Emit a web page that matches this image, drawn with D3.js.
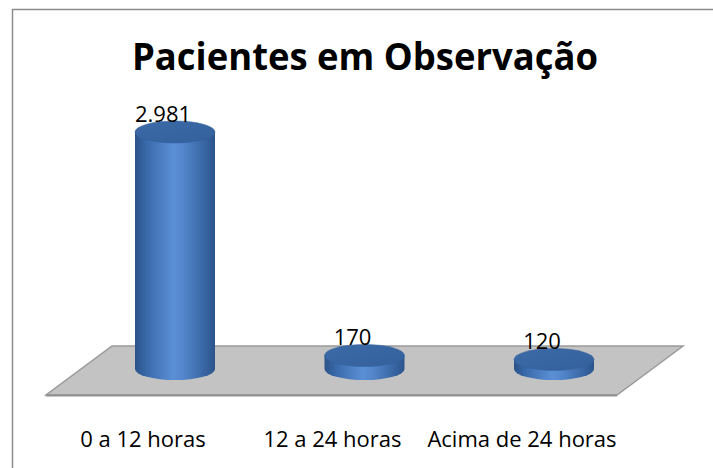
<!DOCTYPE html>
<html>
<head>
<meta charset="utf-8">
<script src="https://cdn.jsdelivr.net/npm/d3@7"></script>
<style>
  body { margin: 0; background: #fff; }
  svg { display: block; font-family: 'Open Sans', sans-serif; }
</style>
</head>
<body>
<svg id="chart" width="713" height="468"></svg>
<script>
const title = 'Pacientes em Observação';
const categories = ['0 a 12 horas', '12 a 24 horas', 'Acima de 24 horas'];
const values = [2981, 170, 120];
const valueLabels = ['2.981', '170', '120'];

const W = 713, H = 468;
const BASE_Y = 369;      // centre of the cylinder bottoms on the floor
const RX = 40, RY = 11;

const svg = d3.select('#chart');

// chart frame (runs off the right and bottom of the window)
svg.append('rect')
    .attr('x', 12.5).attr('y', 9.5)
    .attr('width', W).attr('height', H)
    .attr('fill', 'none')
    .attr('stroke', '#8c8c8c')
    .attr('stroke-width', 1.5);

const x = d3.scalePoint()
    .domain(categories)
    .range([175, 554]);

const h = d3.scaleLinear()
    .domain([0, d3.max(values)])
    .range([0, 237]);

// gradients
const defs = svg.append('defs');
const bodyGrad = defs.append('linearGradient').attr('id', 'body')
    .attr('x1', 0).attr('x2', 1).attr('y1', 0).attr('y2', 0);
[[0, '#2a5288'], [0.15, '#3a6aab'], [0.48, '#5b90d6'], [0.6, '#5386cb'], [0.85, '#3a68a6'], [1, '#2b548c']]
    .forEach(([o, c]) => bodyGrad.append('stop').attr('offset', o).attr('stop-color', c));
const capGrad = defs.append('linearGradient').attr('id', 'cap')
    .attr('x1', 0).attr('x2', 1).attr('y1', 0).attr('y2', 1);
[[0, '#3b6aa7'], [1, '#34619c']]
    .forEach(([o, c]) => capGrad.append('stop').attr('offset', o).attr('stop-color', c));

// floor
const floor = [[112, 346], [683, 346], [617, 395], [46, 395]];
svg.append('path')
    .attr('d', d3.line()(floor) + 'Z')
    .attr('fill', '#c3c3c3')
    .attr('stroke', '#9a9a9a')
    .attr('stroke-width', 1.5);
svg.append('line')
    .attr('x1', 46).attr('y1', 395.5).attr('x2', 617).attr('y2', 395.5)
    .attr('stroke', '#8f8f8f').attr('stroke-width', 2);

// cylinders
const bars = svg.selectAll('g.bar')
    .data(values)
    .join('g')
    .attr('class', 'bar');

bars.append('path')
    .attr('d', (d, i) => {
        const cx = x(categories[i]), yt = BASE_Y - h(d);
        return `M${cx - RX},${yt} L${cx - RX},${BASE_Y}` +
            ` A${RX},${RY} 0 0 0 ${cx + RX},${BASE_Y}` +
            ` L${cx + RX},${yt} Z`;
    })
    .attr('fill', 'url(#body)');

bars.append('ellipse')
    .attr('cx', (d, i) => x(categories[i]))
    .attr('cy', d => BASE_Y - h(d))
    .attr('rx', RX).attr('ry', RY)
    .attr('fill', 'url(#cap)')
    .attr('stroke', '#34609a')
    .attr('stroke-width', 0.5);

// value labels
svg.selectAll('text.value')
    .data(values)
    .join('text')
    .attr('class', 'value')
    .attr('x', (d, i) => x(categories[i]) - 12)
    .attr('y', d => BASE_Y - h(d) - 10)
    .attr('text-anchor', 'middle')
    .attr('font-size', 22)
    .attr('fill', '#000')
    .text((d, i) => valueLabels[i]);

// category labels
svg.selectAll('text.cat')
    .data(categories)
    .join('text')
    .attr('class', 'cat')
    .attr('x', d => x(d) - 32)
    .attr('y', 447)
    .attr('text-anchor', 'middle')
    .attr('font-size', 22)
    .attr('fill', '#000')
    .text(d => d);

// title
svg.append('text')
    .attr('x', 365)
    .attr('y', 70)
    .attr('text-anchor', 'middle')
    .attr('font-size', 37)
    .attr('font-weight', 'bold')
    .attr('textLength', 466)
    .attr('lengthAdjust', 'spacingAndGlyphs')
    .text(title);
</script>
</body>
</html>
